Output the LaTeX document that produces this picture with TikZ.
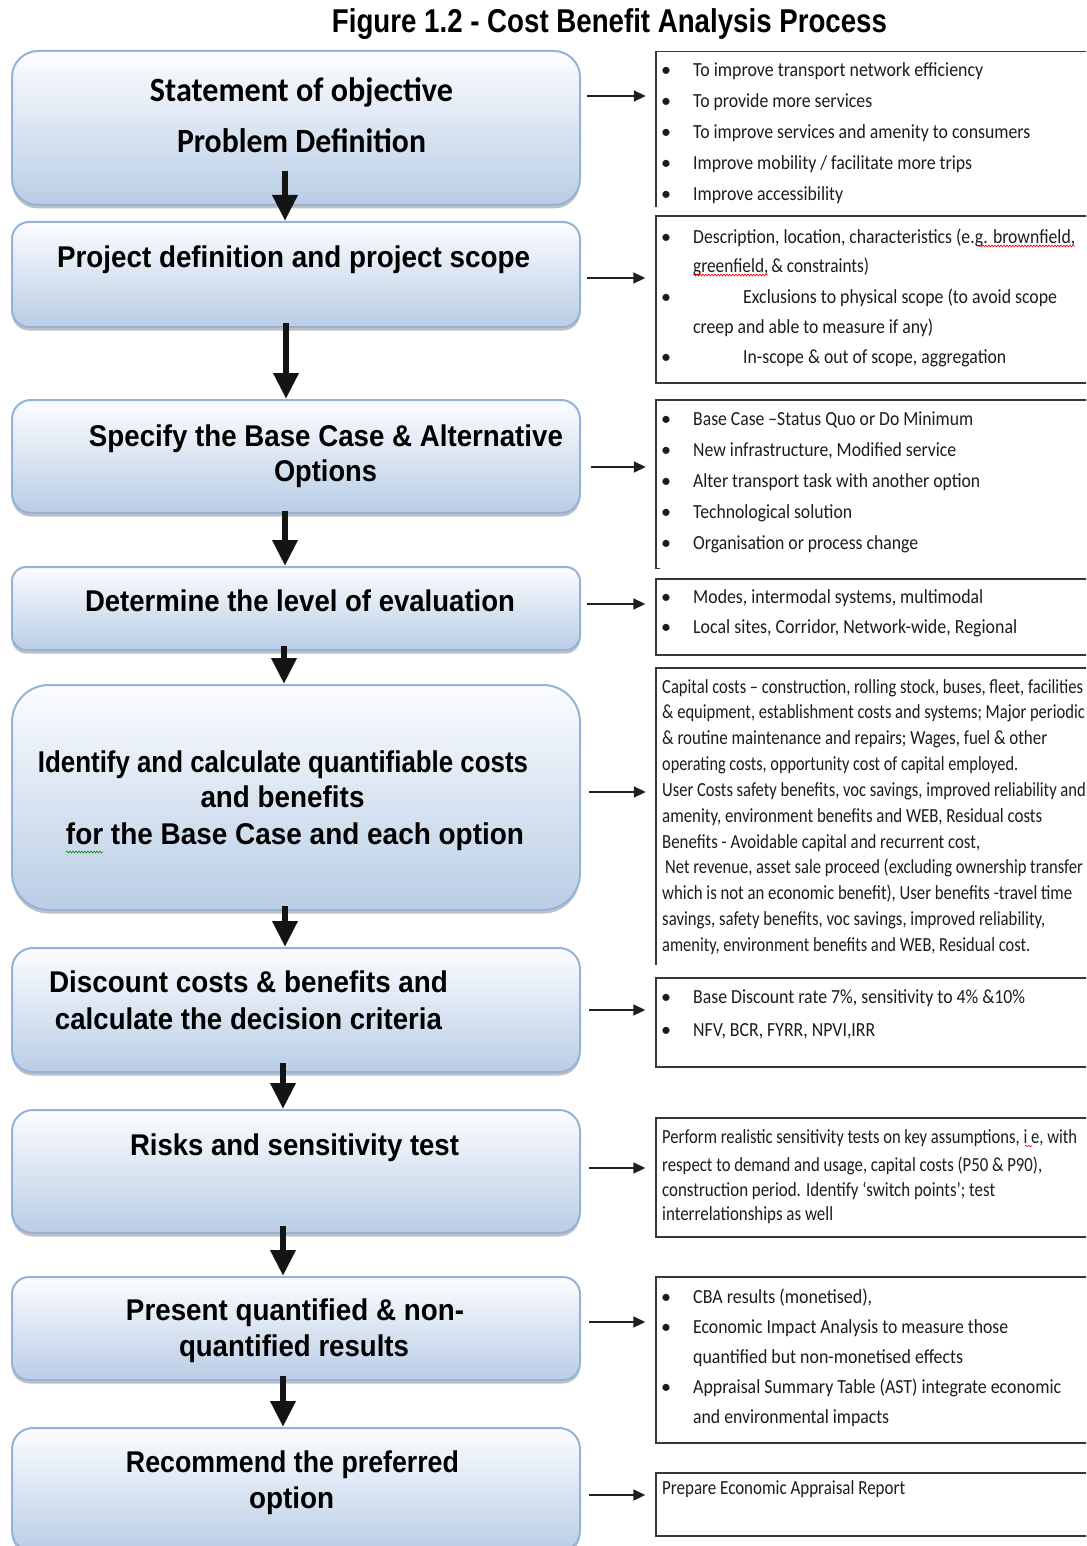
\documentclass[tikz,border=0pt]{standalone}
\usepackage{fontspec}
\usepackage{graphicx}
\usetikzlibrary{arrows.meta,shadows,decorations.pathmorphing}
\newfontfamily\arialf{Liberation Sans}
\newfontfamily\calibf{Carlito}
\definecolor{boxtop}{RGB}{252,253,255}
\definecolor{boxbot}{RGB}{185,205,229}
\definecolor{boxedge}{RGB}{149,179,215}
\definecolor{rtext}{RGB}{28,28,28}
\definecolor{rline}{RGB}{55,55,55}
\newlength\reflen
\newcommand\fitw[2]{\resizebox{#1pt}{\height}{#2}}
\newcommand\lfont{\fontsize{30}{32}\selectfont\arialf\bfseries}
\newcommand\rfont{\fontsize{20}{22}\selectfont\calibf}
% bullet line: name, baseline y, text x, width, text
\newcommand\bline[5]{\node[rt] (#1) at (661,#2) {\makebox[\dimexpr #3pt-661pt\relax][l]{•}\fitw{#4}{#5}};}
% plain line: name, baseline y, x, width, text
\newcommand\pline[5]{\node[rt] (#1) at (#3,#2) {\fitw{#4}{#5}};}
% scaled line: name, baseline y, x, text
\newcommand\sline[4]{\node[rt] (#1) at (#3,#2) {\scalebox{\pscale}[1]{#4}};}
\begin{document}
\settowidth\reflen{\rfont Capital costs – construction, rolling stock, buses, fleet, facilities}%
\pgfmathsetmacro\pscale{421/\reflen}%
\begin{tikzpicture}[x=1pt,y=-1pt,
  lbox/.style={draw=boxedge, line width=2pt, top color=boxtop, bottom color=boxbot,
    minimum width=568pt, inner sep=0pt,
    drop shadow={shadow xshift=0pt, shadow yshift=-3.5pt, opacity=0.35, fill=black!70}},
  rbox/.style={draw=rline, line width=1.4pt, minimum width=439pt, inner sep=0pt},
  rboxopen/.style={minimum width=439pt, inner sep=0pt},
  rside/.style={draw=rline, line width=1.4pt},
  lt/.style={anchor=base, inner sep=0pt, font=\lfont, text=black},
  rt/.style={anchor=base west, inner sep=0pt, font=\rfont, text=rtext},
  down/.style={line width=6.5pt, draw=black!92, -{Triangle[length=26pt,width=24pt]}},
  side/.style={line width=1.6pt, draw=black!88, -{Triangle[length=12pt,width=11pt]},
    shorten <=6pt, shorten >=10pt},
  squig/.style={line width=0.6pt, decorate, decoration={snake, amplitude=1pt, segment length=3pt}}
]
\useasboundingbox (0,0) rectangle (1086,1546);
\clip (0,0) rectangle (1086,1546);
\fill[white] (0,0) rectangle (1086,1546);

% title
\node[anchor=base, inner sep=0pt, font=\fontsize{33}{36}\selectfont\arialf\bfseries] (title) at (609.5,33)
  {\fitw{555}{Figure 1.2 - Cost Benefit Analysis Process}};

% left process boxes
\node[lbox, minimum height=154pt, rounded corners=26pt] (b1) at (296,128) {};
\node[lbox, minimum height=105pt, rounded corners=17pt] (b2) at (296,274.5) {};
\node[lbox, minimum height=113pt, rounded corners=19pt] (b3) at (296,456.5) {};
\node[lbox, minimum height=83pt, rounded corners=14pt] (b4) at (296,608.5) {};
\node[lbox, minimum height=225pt, rounded corners=37pt] (b5) at (296,797.5) {};
\node[lbox, minimum height=124pt, rounded corners=21pt] (b6) at (296,1010) {};
\node[lbox, minimum height=123pt, rounded corners=21pt] (b7) at (296,1171.5) {};
\node[lbox, minimum height=103pt, rounded corners=17pt] (b8) at (296,1328.5) {};
\node[lbox, minimum height=124pt, rounded corners=21pt] (b9) at (296,1490) {};

% left texts
\node[lt, font=\fontsize{34}{36}\selectfont\calibf\bfseries] (t1a) at (301.5,102) {\fitw{303}{Statement of objective}};
\node[lt, font=\fontsize{34}{36}\selectfont\calibf\bfseries] (t1b) at (301.5,153) {\fitw{249}{Problem Definition}};
\node[lt] (t2) at (293.5,268) {\fitw{473}{Project definition and project scope}};
\node[lt] (t3a) at (326,446) {\fitw{474}{Specify the Base Case \& Alternative}};
\node[lt] (t3b) at (325.5,481) {\fitw{103}{Options}};
\node[lt] (t4) at (300,611) {\fitw{430}{Determine the level of evaluation}};
\node[lt] (t5a) at (283,772) {\fitw{490}{Identify and calculate quantifiable costs}};
\node[lt] (t5b) at (282.5,807) {\fitw{164}{and benefits}};
\node[lt] (t5c) at (295,844) {\fitw{458}{for the Base Case and each option}};
\node[lt] (t6a) at (248.5,992) {\fitw{399}{Discount costs \& benefits and}};
\node[lt] (t6b) at (248.5,1029) {\fitw{387}{calculate the decision criteria}};
\node[lt] (t7) at (294.5,1155) {\fitw{329}{Risks and sensitivity test}};
\node[lt] (t8a) at (295,1320) {\fitw{338}{Present quantified \& non-}};
\node[lt] (t8b) at (294,1356) {\fitw{230}{quantified results}};
\node[lt] (t9a) at (292.5,1472) {\fitw{333}{Recommend the preferred}};
\node[lt] (t9b) at (291.5,1508) {\fitw{85}{option}};
\draw[squig, draw=green!55!black] (66,852) -- (103,852);

% down arrows
\draw[down] ([xshift=-11pt,yshift=35pt]b1.south) -- ([xshift=-11pt]b2.north);
\draw[down] ([xshift=-10pt,yshift=5pt]b2.south) -- ([xshift=-10pt]b3.north);
\draw[down] ([xshift=-11pt,yshift=3pt]b3.south) -- ([xshift=-11pt]b4.north);
\draw[down] ([xshift=-12pt,yshift=5pt]b4.south) -- ([xshift=-12pt]b5.north);
\draw[down] ([xshift=-11pt,yshift=5pt]b5.south) -- ([xshift=-11pt]b6.north);
\draw[down] ([xshift=-13pt,yshift=10pt]b6.south) -- ([xshift=-13pt]b7.north);
\draw[down] ([xshift=-13pt,yshift=8pt]b7.south) -- ([xshift=-13pt]b8.north);
\draw[down] ([xshift=-13pt,yshift=5pt]b8.south) -- ([xshift=-13pt]b9.north);

% right boxes
\node[rboxopen, minimum height=155pt] (r1) at (875.5,129.5) {};
\draw[rside] (r1.south west) |- (r1.north east);
\node[rbox, minimum height=167pt] (r2) at (875.5,299.5) {};
\node[rboxopen, minimum height=168pt] (r3) at (875.5,484) {};
\draw[rside] (r3.north east) -| (r3.south west) -- ++(4,0);
\node[rbox, minimum height=76pt] (r4) at (875.5,617) {};
\node[rboxopen, minimum height=297pt] (r5) at (875.5,816.5) {};
\draw[rside] (r5.south west) |- (r5.north east);
\node[rbox, minimum height=89pt] (r6) at (875.5,1022.5) {};
\node[rbox, minimum height=119pt] (r7) at (875.5,1177.5) {};
\node[rbox, minimum height=166pt] (r8) at (875.5,1360) {};
\node[rbox, minimum height=63pt] (r9) at (875.5,1504.5) {};

% side arrows
\draw[side] (b1.east |- 0,96) -- (r1.west |- 0,96);
\draw[side] (b2.east |- 0,278) -- (r2.west |- 0,278);
\draw[side] ([xshift=4pt]b3.east |- 0,467) -- (r3.west |- 0,467);
\draw[side] (b4.east |- 0,604) -- (r4.west |- 0,604);
\draw[side] ([xshift=2pt]b5.east |- 0,792) -- (r5.west |- 0,792);
\draw[side] ([xshift=2pt]b6.east |- 0,1010) -- (r6.west |- 0,1010);
\draw[side] ([xshift=2pt]b7.east |- 0,1168) -- (r7.west |- 0,1168);
\draw[side] ([xshift=2pt]b8.east |- 0,1322) -- (r8.west |- 0,1322);
\draw[side] ([xshift=2pt]b9.east |- 0,1495) -- (r9.west |- 0,1495);

% right texts: box 1
\bline{a1}{76.5}{693}{290}{To improve  transport  network efficiency}
\bline{a2}{107.5}{693}{179}{To provide  more services}
\bline{a3}{138.5}{693}{337}{To improve  services and amenity to consumers}
\bline{a4}{169.5}{693}{279}{Improve  mobility / facilitate more trips}
\bline{a5}{200.5}{693}{150}{Improve  accessibility}
% box 2
\bline{c1}{243.5}{693}{382}{Description, location, characteristics (e.g. brownfield,}
\pline{c2}{272.5}{693}{176}{greenfield,\,\& constraints)}
\bline{c3}{303.5}{743}{314}{Exclusions to physical scope (to avoid scope}
\pline{c4}{333.5}{693}{240}{creep and able to measure if any)}
\bline{c5}{363.5}{743}{263}{In-scope \& out of scope,  aggregation}
\draw[squig, draw=red] (979,246) -- (1075,246);
\draw[squig, draw=red] (693,275) -- (768,275);
% box 3
\bline{d1}{425.5}{693}{280}{Base Case –Status Quo or Do Minimum}
\bline{d2}{456.5}{693}{263}{New infrastructure,  Modified service}
\bline{d3}{487.5}{693}{287}{Alter transport  task with another  option}
\bline{d4}{518.5}{693}{159}{Technological  solution}
\bline{d5}{549.5}{693}{225}{Organisation or process  change}
% box 4
\bline{e1}{603.5}{693}{290}{Modes, intermodal  systems, multimodal}
\bline{e2}{633.5}{693}{324}{Local sites, Corridor,  Network-wide, Regional}
% box 5
\pline{f1}{693.2}{662}{421}{Capital costs – construction, rolling stock, buses, fleet, facilities}
\sline{f2}{718.8}{662}{\& equipment, establishment costs and systems; Major periodic}
\pline{f3}{744.8}{662}{385}{\& routine maintenance and repairs; Wages, fuel  \& other}
\pline{f4}{770.5}{662}{356}{operating costs, opportunity cost of capital employed.}
\sline{f5}{796.5}{662}{User Costs safety benefits, voc savings, improved reliability and}
\pline{f6}{822.2}{662}{380}{amenity, environment benefits and WEB, Residual costs}
\pline{f7}{848.2}{662}{318}{Benefits - Avoidable capital and recurrent cost,}
\sline{f8}{873.8}{665}{Net revenue, asset sale proceed (excluding ownership transfer}
\pline{f9}{899.8}{662}{410}{which is not an economic benefit), User benefits -travel time}
\pline{f10}{925.5}{662}{383}{savings, safety benefits, voc savings, improved reliability,}
\pline{f11}{951.5}{662}{368}{amenity, environment benefits and WEB, Residual cost.}
% box 6
\bline{g1}{1003.5}{693}{332}{Base Discount  rate 7\%, sensitivity to 4\% \&10\%}
\bline{g2}{1036.5}{693}{182}{NFV, BCR, FYRR, NPVI,IRR}
% box 7
\pline{h1}{1143.2}{662}{415}{Perform realistic sensitivity tests on key assumptions, i e, with}
\pline{h2}{1171.5}{662}{380}{respect to demand and usage, capital costs (P50 \& P90),}
\pline{h3}{1196.5}{662}{333}{construction period.  Identify ‘switch points’; test}
\pline{h4}{1220}{662}{171}{interrelationships as well}
\draw[squig, draw=red, decoration={snake, amplitude=0.8pt, segment length=3pt}] (1025,1146) -- (1032,1146);
% box 8
\bline{k1}{1303.5}{693}{179}{CBA results (monetised),}
\bline{k2}{1333.5}{693}{315}{Economic Impact Analysis to measure  those}
\pline{k3}{1363.5}{693}{270}{quantified but  non-monetised  effects}
\bline{k4}{1393.5}{693}{368}{Appraisal Summary Table (AST) integrate  economic}
\pline{k5}{1423.5}{693}{196}{and environmental  impacts}
% box 9
\pline{m1}{1494.5}{662}{243}{Prepare Economic Appraisal Report}
\end{tikzpicture}
\end{document}
